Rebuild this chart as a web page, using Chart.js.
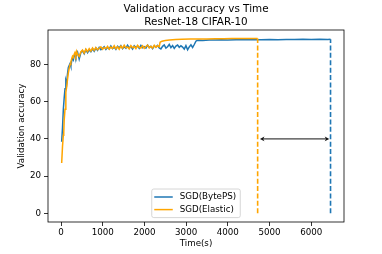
<!DOCTYPE html>
<html><head><meta charset="utf-8">
<script src="https://cdn.jsdelivr.net/npm/chart.js@4/dist/chart.umd.min.js"></script>
<style>html,body{margin:0;padding:0;background:#fff}canvas{display:block}</style>
</head><body>
<canvas id="c" width="382" height="254"></canvas>
<script>
// ---- data ----
const titleLines = ['Validation accuracy vs Time', 'ResNet-18 CIFAR-10'];
const seriesNames = ['SGD(BytePS)', 'SGD(Elastic)'];
const xTicks = [0, 1000, 2000, 3000, 4000, 5000, 6000];
const yTicks = [0, 20, 40, 60, 80];

const bytepsTime = [15,35,55,75,95,115,135,155,175,195,215,235,255,275,295,315,335,355,375,395,
 435,475,515,555,595,635,675,715,755,795,835,875,915,955,995,1035,1075,1115,1155,1195,
 1235,1275,1315,1355,1395,1435,1475,1515,1555,1595,1635,1675,1715,1755,1795,1835,1875,1915,1955,1995,
 2035,2075,2115,2155,2195,2235,2275,2315,2355,2395,2435,2475,2515,2555,2595,2635,2675,2715,2755,2795,
 2835,2875,2915,2955,2995,3035,3075,3115,3155,3195,3235,
 3260,3300,3400,3550,3700,3850,4000,4200,4400,4600,4800,5000,5200,5400,5600,5800,6000,6200,6400,6463];
const bytepsAcc = [38.5,46,56,62,67,71.5,70,75,78.5,79.5,80.5,79,82,83.5,82.5,84.5,85.5,84,86,86.8,
 83,86.5,87.4,85.8,88,86.4,87.8,86.9,88.5,87.2,88.9,87.6,89.2,88,88.7,89.6,88.1,89.3,88.4,90,
 88.6,89.4,88.2,89.8,88.9,90.2,88.5,89.6,88.8,90.4,89,89.7,88.4,90.1,89.2,89.9,88.7,90.3,89.1,89.6,
 88.9,90.5,89.2,89.8,88.6,90,89.4,90.3,89,88.4,89.8,90.6,88.9,89.6,90.8,89.1,90.2,88.7,89.9,90.5,
 89.3,90.1,89.4,88.3,90.2,88,89.5,90.6,89.2,90.8,92.6,
 93.0,93.1,93.0,93.2,93.2,93.3,93.2,93.3,93.4,93.3,93.4,93.5,93.4,93.5,93.5,93.6,93.5,93.6,93.5,93.6];

const elasticTime = [15,35,55,65,75,95,115,135,155,175,195,215,235,255,275,295,315,335,355,375,395,
 435,475,515,555,595,635,675,715,755,795,835,875,915,955,995,1035,1075,1115,1155,1195,
 1235,1275,1315,1355,1395,1435,1475,1515,1555,1595,1635,1675,1715,1755,1795,1835,1875,1915,1955,1995,
 2035,2075,2115,2155,2195,2235,2275,2315,2355,
 2375,2420,2500,2600,2750,2900,3100,3300,3500,3700,3900,4100,4300,4500,4715];
const elasticAcc = [27,36,42,43.5,50,56,65,68,72,75.5,78,80,81.5,83,84.5,83.8,85.5,86.5,85,87,85.5,
 84.4,86.8,87.8,86.2,88.3,87,88.6,87.3,88.9,87.6,89.1,88,88.8,89.5,88.2,89.2,88.6,89.8,88.3,89.4,
 88.7,90.1,88.5,89.6,88.2,89.9,88.8,90.4,89,89.5,88.4,90.2,89.1,89.7,88.6,90.3,89.3,88.9,90.1,88.8,
 89.7,90.5,89,89.8,88.9,90.4,89.3,90.2,89.6,
 92.0,92.6,92.9,93.2,93.5,93.6,93.7,93.8,93.8,93.9,93.9,94.0,94.0,94.0,94.0];

const arrowLevel = 40;
const arrowSpan = [4770, 6432];

// ---- chart ----
const BLUE = '#1f77b4', ORANGE = '#ffa500';
const FONT = 'DejaVu Sans';
Chart.defaults.font.family = FONT;
Chart.defaults.color = '#000';

const pts = (xs, ys) => xs.map((t, i) => ({x: t, y: ys[i]}));
const endLine = (xs, ys) => [{x: xs[xs.length-1], y: 0}, {x: xs[xs.length-1], y: ys[ys.length-1]}];

const decor = {
  id: 'decor',
  afterDatasetsDraw(chart) {
    const {ctx, chartArea: a, scales: {x, y}} = chart;
    ctx.save();
    const yy = y.getPixelForValue(arrowLevel);
    const x1 = x.getPixelForValue(arrowSpan[0]);
    const x2 = x.getPixelForValue(arrowSpan[1]);
    ctx.strokeStyle = '#111'; ctx.fillStyle = '#111'; ctx.lineWidth = 1;
    ctx.beginPath(); ctx.moveTo(x1 + 2, yy); ctx.lineTo(x2 - 2, yy); ctx.stroke();
    const head = (px, dir) => {
      ctx.beginPath(); ctx.moveTo(px, yy);
      ctx.lineTo(px + dir * 4.5, yy - 2.3); ctx.lineTo(px + dir * 3.2, yy);
      ctx.lineTo(px + dir * 4.5, yy + 2.3); ctx.closePath(); ctx.fill();
    };
    head(x1, 1); head(x2, -1);
    ctx.strokeStyle = '#000'; ctx.lineWidth = 0.8;
    ctx.strokeRect(a.left, a.top, a.right - a.left, a.bottom - a.top);
    ctx.restore();
  },
  afterDraw(chart) {
    const {ctx, chartArea: a} = chart;
    ctx.save();
    const cx = (a.left + a.right) / 2;
    ctx.fillStyle = '#000';
    ctx.font = '10.4px "' + FONT + '"';
    ctx.textAlign = 'center'; ctx.textBaseline = 'middle';
    ctx.fillText(titleLines[0], cx, 9);
    ctx.fillText(titleLines[1], cx, 22);
    const w = 88.5, h = 28.6;
    const left = cx - w / 2, top = a.bottom - 4.4 - h;
    ctx.beginPath();
    ctx.roundRect(left, top, w, h, 2);
    ctx.fillStyle = 'rgba(255,255,255,0.8)'; ctx.fill();
    ctx.strokeStyle = '#cccccc'; ctx.lineWidth = 0.8; ctx.stroke();
    const cols = [BLUE, ORANGE];
    ctx.font = '8.7px "' + FONT + '"';
    ctx.textAlign = 'left'; ctx.textBaseline = 'middle';
    seriesNames.forEach((name, i) => {
      const cy = top + 8 + i * 12.6;
      ctx.strokeStyle = cols[i]; ctx.lineWidth = 1.5;
      ctx.beginPath(); ctx.moveTo(left + 2.5, cy); ctx.lineTo(left + 21, cy); ctx.stroke();
      ctx.fillStyle = '#000';
      ctx.fillText(name, left + 28, cy);
    });
    ctx.restore();
  }
};

new Chart(document.getElementById('c'), {
  type: 'line',
  data: {
    datasets: [
      {label: seriesNames[0], data: pts(bytepsTime, bytepsAcc), borderColor: BLUE, borderWidth: 1.5, pointRadius: 0, order: 3},
      {label: seriesNames[1], data: pts(elasticTime, elasticAcc), borderColor: ORANGE, borderWidth: 1.5, pointRadius: 0, order: 2},
      {label: 'end-byteps', data: endLine(bytepsTime, bytepsAcc), borderColor: BLUE, borderWidth: 1.6, borderDash: [5, 2.4], pointRadius: 0, order: 1},
      {label: 'end-elastic', data: endLine(elasticTime, elasticAcc), borderColor: ORANGE, borderWidth: 1.6, borderDash: [5, 2.4], pointRadius: 0, order: 1}
    ]
  },
  options: {
    responsive: false, animation: false, events: [],
    devicePixelRatio: 1,
    layout: {padding: {left: 0, top: 30, right: 38, bottom: 0}},
    plugins: {legend: {display: false}, tooltip: {enabled: false}, title: {display: false}},
    elements: {line: {tension: 0, fill: false}},
    scales: {
      x: {
        type: 'linear', min: -313, max: 6786,
        afterBuildTicks: s => { s.ticks = xTicks.map(v => ({value: v})); },
        afterFit: s => { s.height = 32; },
        grid: {drawOnChartArea: false, drawTicks: true, tickLength: 4, tickColor: '#000', tickWidth: 0.8},
        border: {display: false},
        ticks: {color: '#000', font: {size: 8.7}, padding: 2, maxRotation: 0, autoSkip: false, callback: v => String(v)},
        title: {display: true, text: 'Time(s)', color: '#000', font: {size: 8.7}, padding: {top: 0, bottom: 5}}
      },
      y: {
        type: 'linear', min: -4.7, max: 98.6,
        afterBuildTicks: s => { s.ticks = yTicks.map(v => ({value: v})); },
        afterFit: s => { s.width = 48; },
        grid: {drawOnChartArea: false, drawTicks: true, tickLength: 4, tickColor: '#000', tickWidth: 0.8},
        border: {display: false},
        ticks: {color: '#000', font: {size: 8.7}, padding: 3, callback: v => String(v)},
        title: {display: true, text: 'Validation accuracy', color: '#000', font: {size: 8.7}, padding: {top: 16.5, bottom: 0}}
      }
    }
  },
  plugins: [decor]
});
</script>
</body></html>
